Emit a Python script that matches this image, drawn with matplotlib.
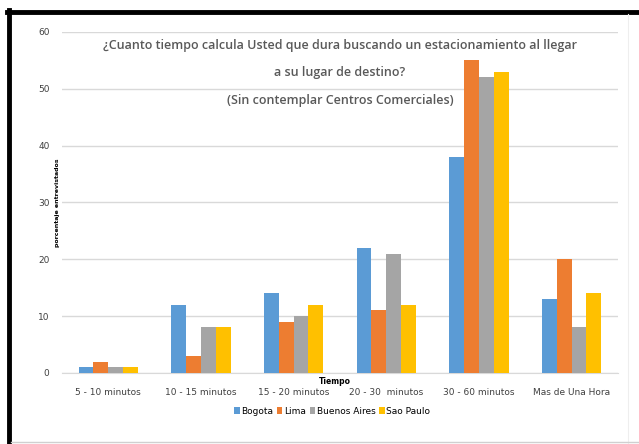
import numpy as np
import matplotlib.pyplot as plt
from matplotlib.lines import Line2D

plt.rcParams['font.family'] = ['Liberation Sans Narrow', 'DejaVu Sans']

categorias = ["5 - 10 minutos", "10 - 15 minutos", "15 - 20 minutos",
              "20 - 30  minutos", "30 - 60 minutos", "Mas de Una Hora"]
bogota = [1, 12, 14, 22, 38, 13]
lima = [2, 3, 9, 11, 55, 20]
buenos_aires = [1, 8, 10, 21, 52, 8]
sao_paulo = [1, 8, 12, 12, 53, 14]
series = ["Bogota", "Lima", "Buenos Aires", "Sao Paulo"]
colores = ["#5b9bd5", "#ed7d31", "#a5a5a5", "#ffc000"]

fig = plt.figure(figsize=(6.39, 4.44), dpi=100)
ax = fig.add_axes([0.097, 0.160, 0.870, 0.768])

x = np.arange(len(categorias))
w = 0.16
datos = [bogota, lima, buenos_aires, sao_paulo]
for i, (d, nom, c) in enumerate(zip(datos, series, colores)):
    ax.bar(x + (i - 1.5) * w, d, w, color=c, label=nom, zorder=3)

ax.set_xlim(-0.5, len(categorias) - 0.5)
ax.set_ylim(0, 60)
ax.set_yticks(range(0, 61, 10))
ax.set_xticks(x)
ax.set_xticklabels(categorias, fontsize=6.5, color="#404040")
ax.tick_params(axis='y', labelsize=6.5, colors="#404040", length=0, pad=9)
ax.tick_params(axis='x', length=0, pad=11)
ax.grid(axis='y', color="#d9d9d9", lw=1, zorder=0)
for s in ["top", "right", "left"]:
    ax.spines[s].set_visible(False)
ax.spines["bottom"].set_color("#d9d9d9")

ax.text(-0.008, 0.5, "porcentaje entrevistados", transform=ax.transAxes, fontsize=4.5,
        fontweight='bold', rotation=90, ha='center', va='center')
ax.text(0.49, -0.012, "Tiempo", transform=ax.transAxes, fontsize=5.5,
        fontweight='bold', ha='center', va='top')

titulo = ("¿Cuanto tiempo calcula Usted que dura buscando un estacionamiento al llegar\n"
          "a su lugar de destino?\n(Sin contemplar Centros Comerciales)")
ax.text(0.5, 0.98, titulo, transform=ax.transAxes, ha='center', va='top',
        fontsize=9, color="#595959", fontweight='semibold', linespacing=2.45,
        family=['Open Sans', 'DejaVu Sans'])

fig.legend(loc='center', bbox_to_anchor=(0.52, 0.074), ncol=4, fontsize=6.5,
           frameon=False, handlelength=0.6, handleheight=0.9, handletextpad=0.2,
           columnspacing=0.4)

# marco
fig.add_artist(Line2D([9 / 639, 9 / 639], [0, 1 - 10 / 444], color='black', lw=3.5,
                      transform=fig.transFigure))
fig.add_artist(Line2D([7 / 639, 1], [1 - 12 / 444, 1 - 12 / 444], color='black', lw=3.5,
                      transform=fig.transFigure))
fig.add_artist(Line2D([628 / 639, 628 / 639], [0, 1 - 14 / 444], color='#eeeeee', lw=0.8,
                      transform=fig.transFigure))
fig.add_artist(Line2D([11 / 639, 1], [2 / 444, 2 / 444], color='#d0d0d0', lw=1,
                      transform=fig.transFigure))

fig.savefig("out.png", dpi=100)
